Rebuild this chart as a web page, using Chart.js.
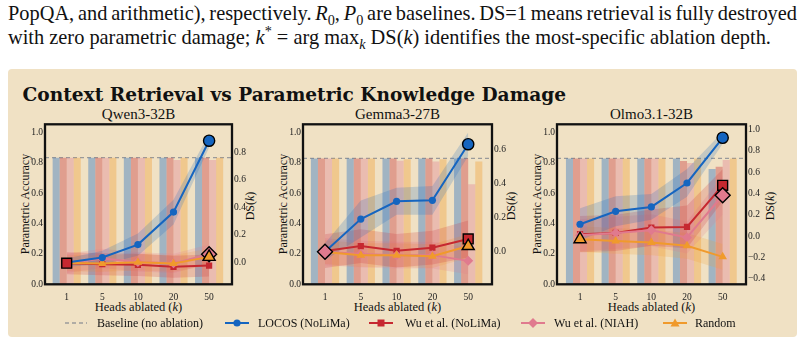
<!DOCTYPE html>
<html><head><meta charset="utf-8">
<script src="https://cdn.jsdelivr.net/npm/chart.js@4.4.1/dist/chart.umd.min.js"></script>
<style>
html,body{margin:0;padding:0;background:#fff;}
body{width:805px;height:343px;position:relative;overflow:hidden;font-family:"Liberation Serif",serif;color:#111;}
.abs{position:absolute;white-space:nowrap;}
.para{font-size:19px;line-height:23px;left:8px;}
.para sub,.para sup{font-size:70%;line-height:0;}
#box{position:absolute;left:7.5px;top:69px;width:789px;height:268px;background:#f0e1c4;border-radius:4px;}
#title{font-family:"DejaVu Serif",serif;font-weight:bold;font-size:18.5px;line-height:20px;left:22.5px;top:85px;color:#111;}
.sub{font-size:15px;line-height:16px;transform:translateX(-50%);top:106px;}
.rot{font-size:12px;line-height:14px;transform:translate(-50%,-50%) rotate(-90deg);}
.xlab{font-size:12.5px;line-height:14px;transform:translate(-50%,-50%);top:307.3px;}
canvas{position:absolute;left:0;top:0;}
.lg{position:absolute;top:316px;height:14px;font-size:12px;line-height:14px;white-space:nowrap;}
.lgsvg{position:absolute;top:317px;}
</style></head>
<body>
<div id="l1" class="abs para" style="top:2px">PopQA, and arithmetic), respectively. <i>R</i><sub>0</sub>, <i>P</i><sub>0</sub> are baselines. DS=1 means retrieval is fully destroyed</div>
<div id="l2" class="abs para" style="top:26px">with zero parametric damage; <i>k</i><sup>*</sup> = arg max<sub><i>k</i></sub> DS(<i>k</i>) identifies the most-specific ablation depth.</div>
<div id="box"></div>
<div id="title" class="abs">Context Retrieval vs Parametric Knowledge Damage</div>

<div class="abs sub" style="left:138.5px">Qwen3-32B</div>
<div class="abs sub" style="left:397.5px">Gemma3-27B</div>
<div class="abs sub" style="left:651.5px">Olmo3.1-32B</div>

<div class="abs rot" style="left:25px;top:204px">Parametric Accuracy</div>
<div class="abs rot" style="left:283px;top:204px">Parametric Accuracy</div>
<div class="abs rot" style="left:537px;top:204px">Parametric Accuracy</div>
<div class="abs rot" style="left:250px;top:206px">DS(<i>k</i>)</div>
<div class="abs rot" style="left:511px;top:206px">DS(<i>k</i>)</div>
<div class="abs rot" style="left:770px;top:206px">DS(<i>k</i>)</div>

<div class="abs xlab" style="left:138.5px">Heads ablated (<i>k</i>)</div>
<div class="abs xlab" style="left:397.5px">Heads ablated (<i>k</i>)</div>
<div class="abs xlab" style="left:651.5px">Heads ablated (<i>k</i>)</div>

<canvas id="c1" width="805" height="343"></canvas>
<canvas id="c2" width="805" height="343"></canvas>
<canvas id="c3" width="805" height="343"></canvas>

<svg class="lgsvg" style="left:64px" width="24" height="12"><line x1="1" y1="6" x2="23" y2="6" stroke="#9a9a9a" stroke-width="1.3" stroke-dasharray="4,3"/></svg>
<div class="lg" style="left:97px">Baseline (no ablation)</div>
<svg class="lgsvg" style="left:225px" width="24" height="12"><line x1="0" y1="6" x2="24" y2="6" stroke="#1565c0" stroke-width="2"/><circle cx="12" cy="6" r="3.6" fill="#1565c0"/></svg>
<div class="lg" style="left:258px">LOCOS (NoLiMa)</div>
<svg class="lgsvg" style="left:369px" width="24" height="12"><line x1="0" y1="6" x2="24" y2="6" stroke="#c62830" stroke-width="2"/><rect x="8.5" y="2.5" width="7" height="7" fill="#c62830"/></svg>
<div class="lg" style="left:405px">Wu et al. (NoLiMa)</div>
<svg class="lgsvg" style="left:521px" width="24" height="12"><line x1="0" y1="6" x2="24" y2="6" stroke="#e07a8e" stroke-width="2"/><polygon points="12,1 17,6 12,11 7,6" fill="#e07a8e"/></svg>
<div class="lg" style="left:554px">Wu et al. (NIAH)</div>
<svg class="lgsvg" style="left:663px" width="24" height="12"><line x1="0" y1="6" x2="24" y2="6" stroke="#f09a2c" stroke-width="2"/><polygon points="12,1.5 16.5,9.5 7.5,9.5" fill="#f09a2c"/></svg>
<div class="lg" style="left:695px">Random</div>

<script>
// ---------- data ----------
const kLabels = ['1', '5', '10', '20', '50'];
const seriesLabels = ['LOCOS (NoLiMa)', 'Wu et al. (NoLiMa)', 'Wu et al. (NIAH)', 'Random'];
const accTicks = [0, 0.2, 0.4, 0.6, 0.8, 1.0];

// Qwen3-32B
const qwenBaseline = 0.835;
const qwenAccLocos    = [0.835, 0.835, 0.835, 0.835, 0.835];
const qwenAccWuNolima = [0.835, 0.835, 0.835, 0.835, 0.835];
const qwenAccWuNiah   = [0.835, 0.835, 0.835, 0.82, 0.82];
const qwenAccRandom   = [0.835, 0.835, 0.835, 0.835, 0.835];
const qwenDsLocos    = [0.0, 0.036, 0.13, 0.366, 0.884];
const qwenDsWuNolima = [-0.005, -0.012, -0.017, -0.031, -0.022];
const qwenDsWuNiah   = [-0.006, 0.03, 0.004, -0.006, 0.06];
const qwenDsRandom   = [-0.004, -0.007, 0.002, -0.007, 0.041];
const qwenSdLocos    = [0.03, 0.05, 0.08, 0.09, 0.05];
const qwenSdWuNolima = [0.08, 0.08, 0.08, 0.08, 0.08];
const qwenSdWuNiah   = [0.07, 0.07, 0.07, 0.07, 0.07];
const qwenSdRandom   = [0.06, 0.06, 0.06, 0.06, 0.06];
const qwenDsTicks = [0, 0.2, 0.4, 0.6, 0.8];

// Gemma3-27B
const gemmaBaseline = 0.83;
const gemmaAccLocos    = [0.83, 0.83, 0.83, 0.83, 0.83];
const gemmaAccWuNolima = [0.83, 0.83, 0.83, 0.83, 0.83];
const gemmaAccWuNiah   = [0.83, 0.83, 0.815, 0.81, 0.66];
const gemmaAccRandom   = [0.83, 0.83, 0.825, 0.825, 0.81];
const gemmaDsLocos    = [-0.004, 0.19, 0.295, 0.301, 0.634];
const gemmaDsWuNolima = [0.0, 0.03, 0.002, 0.02, 0.072];
const gemmaDsWuNiah   = [-0.004, -0.018, -0.024, -0.024, -0.058];
const gemmaDsRandom   = [-0.006, -0.024, -0.024, -0.03, 0.03];
const gemmaSdLocos    = [0.05, 0.11, 0.08, 0.085, 0.07];
const gemmaSdWuNolima = [0.1, 0.1, 0.1, 0.1, 0.11];
const gemmaSdWuNiah   = [0.08, 0.08, 0.08, 0.08, 0.08];
const gemmaSdRandom   = [0.07, 0.07, 0.07, 0.07, 0.07];
const gemmaDsTicks = [0, 0.2, 0.4, 0.6];

// Olmo3.1-32B
const olmoBaseline = 0.83;
const olmoAccLocos    = [0.83, 0.83, 0.83, 0.83, 0.76];
const olmoAccWuNolima = [0.83, 0.83, 0.83, 0.813, 0.775];
const olmoAccWuNiah   = [0.83, 0.83, 0.83, 0.80, 0.82];
const olmoAccRandom   = [0.83, 0.83, 0.83, 0.83, 0.83];
const olmoDsLocos    = [0.112, 0.233, 0.274, 0.498, 0.921];
const olmoDsWuNolima = [0.019, 0.031, 0.081, 0.087, 0.476];
const olmoDsWuNiah   = [0.009, 0.031, 0.056, -0.012, 0.383];
const olmoDsRandom   = [-0.028, -0.044, -0.059, -0.09, -0.193];
const olmoSdLocos    = [0.15, 0.14, 0.12, 0.13, 0.055];
const olmoSdWuNolima = [0.17, 0.17, 0.17, 0.2, 0.15];
const olmoSdWuNiah   = [0.15, 0.15, 0.15, 0.15, 0.18];
const olmoSdRandom   = [0.12, 0.12, 0.12, 0.12, 0.12];
const olmoDsTicks = [-0.4, -0.2, 0, 0.2, 0.4, 0.6, 0.8, 1.0];

// ---------- styles ----------
const seriesColors = ['#1565c0', '#c62830', '#e07a8e', '#f09a2c'];
const seriesStyles = ['circle', 'rect', 'rectRot', 'triangle'];
const smallRadius = [3.6, 4.4, 5, 5];
const bigRadius = [5.6, 7, 7.5, 7];
const lineOrder = [1, 4, 3, 2];

function rgba(hex, a) {
  const n = parseInt(hex.slice(1), 16);
  return `rgba(${(n >> 16) & 255},${(n >> 8) & 255},${n & 255},${a})`;
}
function argmax(a) { let m = 0; a.forEach((v, i) => { if (v > a[m]) m = i; }); return m; }
const fmt = v => (v < -1e-9 ? '\u2212' + Math.abs(v).toFixed(1) : Math.abs(v).toFixed(1));

const framePlugin = {
  id: 'frame',
  beforeDatasetsDraw(chart, args, o) {
    const ctx = chart.ctx;
    const y = chart.scales.yAcc.getPixelForValue(o.baseline);
    ctx.save();
    ctx.strokeStyle = '#9a9a9a'; ctx.lineWidth = 1.1; ctx.setLineDash([4, 3]);
    ctx.beginPath(); ctx.moveTo(o.left, y); ctx.lineTo(o.right, y); ctx.stroke();
    ctx.restore();
  },
  afterDatasetsDraw(chart, args, o) {
    const ctx = chart.ctx, ca = chart.chartArea;
    ctx.save();
    ctx.strokeStyle = '#111'; ctx.lineWidth = 2.3;
    ctx.strokeRect(o.left, ca.top, o.right - o.left, ca.bottom - ca.top);
    ctx.restore();
  }
};

function makePanel(id, g, acc, ds, sd, baseline, dsMin, dsMax, dsTicks) {
  const leftW = 30, rightW = 30, xH = 30;
  const top = 124.3, bottom = 284.3;
  const datasets = [];
  acc.forEach((a, i) => datasets.push({
    type: 'bar', label: seriesLabels[i], data: a, yAxisID: 'yAcc',
    backgroundColor: rgba(seriesColors[i], 0.36), borderWidth: 0,
    barPercentage: 1.0, categoryPercentage: 0.79, order: 20
  }));
  ds.forEach((d, i) => {
    const up = d.map((v, j) => v + sd[i][j]);
    const lo = d.map((v, j) => v - sd[i][j]);
    datasets.push({ type: 'line', data: up, yAxisID: 'yDs', borderWidth: 0, pointRadius: 0,
      fill: '+1', backgroundColor: rgba(seriesColors[i], 0.2), order: 10 + i * 0.1 });
    datasets.push({ type: 'line', data: lo, yAxisID: 'yDs', borderWidth: 0, pointRadius: 0,
      fill: false, order: 10 + i * 0.1 + 0.05 });
  });
  ds.forEach((d, i) => {
    const am = argmax(d);
    datasets.push({ type: 'line', label: seriesLabels[i], data: d, yAxisID: 'yDs',
      borderColor: seriesColors[i], backgroundColor: seriesColors[i], borderWidth: 2,
      pointStyle: seriesStyles[i], pointRadius: d.map((v, j) => j === am ? 0 : smallRadius[i]),
      pointBorderWidth: 0, fill: false, order: 5 + lineOrder[i] * 0.1 });
    datasets.push({ type: 'line', data: d.map((v, j) => j === am ? v : null), yAxisID: 'yDs',
      showLine: false, pointStyle: seriesStyles[i], pointRadius: bigRadius[i],
      pointBackgroundColor: seriesColors[i], pointBorderColor: '#000', pointBorderWidth: 1.4,
      order: lineOrder[i] * 0.1 });
  });
  const tickFont = { family: '"Liberation Serif", serif', size: 9.5 };
  new Chart(document.getElementById(id), {
    data: { labels: kLabels, datasets },
    options: {
      responsive: false, animation: false, events: [],
      layout: { padding: { left: g.chartL - leftW, right: 805 - g.chartR - rightW, top: top, bottom: 343 - bottom - xH } },
      plugins: { legend: { display: false }, tooltip: { enabled: false },
        frame: { left: g.frameL, right: g.frameR, baseline: baseline } },
      scales: {
        x: { type: 'category', offset: true, grid: { display: false, drawTicks: false }, border: { display: false },
          ticks: { font: tickFont, color: '#222', padding: 7, maxRotation: 0 },
          afterFit: s => { s.height = xH; } },
        yAcc: { position: 'left', min: 0, max: 1.055, grid: { display: false, drawTicks: false }, border: { display: false },
          afterBuildTicks: s => { s.ticks = accTicks.map(v => ({ value: v })); },
          ticks: { font: tickFont, color: '#222', padding: g.chartL - g.frameL + 2, callback: v => fmt(v) },
          afterFit: s => { s.width = leftW; } },
        yDs: { position: 'right', min: dsMin, max: dsMax, grid: { display: false, drawTicks: false }, border: { display: false },
          afterBuildTicks: s => { s.ticks = dsTicks.map(v => ({ value: v })); },
          ticks: { font: tickFont, color: '#222', padding: g.frameR - g.chartR + 2, callback: v => fmt(v) },
          afterFit: s => { s.width = rightW; } }
      }
    },
    plugins: [framePlugin]
  });
}

makePanel('c1', { frameL: 45, frameR: 232, chartL: 48.9, chartR: 226.9 },
  [qwenAccLocos, qwenAccWuNolima, qwenAccWuNiah, qwenAccRandom],
  [qwenDsLocos, qwenDsWuNolima, qwenDsWuNiah, qwenDsRandom],
  [qwenSdLocos, qwenSdWuNolima, qwenSdWuNiah, qwenSdRandom],
  qwenBaseline, -0.158, 1.003, qwenDsTicks);
makePanel('c2', { frameL: 303, frameR: 492, chartL: 307.1, chartR: 486.1 },
  [gemmaAccLocos, gemmaAccWuNolima, gemmaAccWuNiah, gemmaAccRandom],
  [gemmaDsLocos, gemmaDsWuNolima, gemmaDsWuNiah, gemmaDsRandom],
  [gemmaSdLocos, gemmaSdWuNolima, gemmaSdWuNiah, gemmaSdRandom],
  gemmaBaseline, -0.197, 0.752, gemmaDsTicks);
makePanel('c3', { frameL: 557, frameR: 746, chartL: 562.2, chartR: 740.5 },
  [olmoAccLocos, olmoAccWuNolima, olmoAccWuNiah, olmoAccRandom],
  [olmoDsLocos, olmoDsWuNolima, olmoDsWuNiah, olmoDsRandom],
  [olmoSdLocos, olmoSdWuNolima, olmoSdWuNiah, olmoSdRandom],
  olmoBaseline, -0.45, 1.047, olmoDsTicks);

// fit text widths to the layout
function fitAll() {
  const l1 = document.getElementById('l1');
  const l2 = document.getElementById('l2');
  l1.style.wordSpacing = '0px';
  l1.style.fontSize = '19px'; l2.style.fontSize = '19px';
  const w2 = l2.getBoundingClientRect().width;
  const fs = 19 * 763 / w2;
  l1.style.fontSize = fs + 'px'; l2.style.fontSize = fs + 'px';
  const w1 = l1.getBoundingClientRect().width;
  const spaces = (l1.textContent.match(/ /g) || []).length;
  l1.style.wordSpacing = ((789 - w1) / spaces) + 'px';
  const t = document.getElementById('title');
  t.style.fontSize = '18.5px';
  const wt = t.getBoundingClientRect().width;
  t.style.fontSize = (18.5 * 544 / wt) + 'px';
}
fitAll();
if (document.fonts && document.fonts.ready) document.fonts.ready.then(fitAll);
</script>
</body></html>
